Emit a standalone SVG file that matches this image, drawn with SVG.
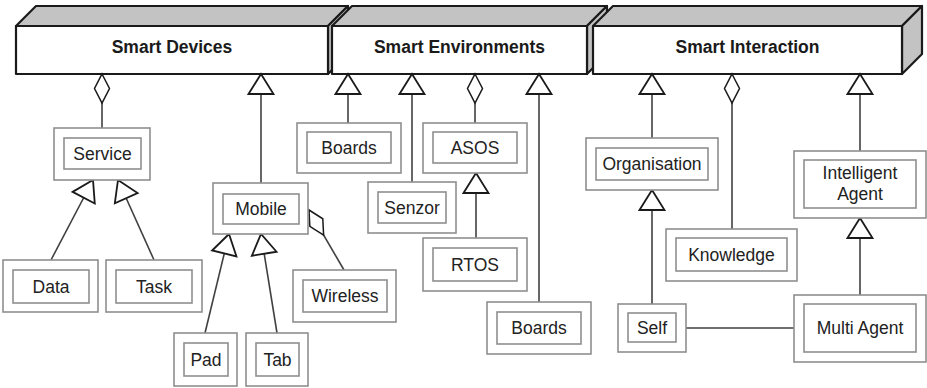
<svg xmlns="http://www.w3.org/2000/svg" width="927" height="388" viewBox="0 0 927 388">
  <style>
    .face { fill: #ffffff; stroke: #1a1a1a; stroke-width: 2.2; stroke-linejoin: round; }
    .shade { fill: #c3c3c3; stroke: #1a1a1a; stroke-width: 2.2; stroke-linejoin: round; }
    .title { font-family: "Liberation Sans", Arial, sans-serif; font-weight: bold; font-size: 17.5px; fill: #1a1a1a; text-anchor: middle; }
    .outer { fill: #ffffff; stroke: #8f8f8f; stroke-width: 1.6; }
    .inner { fill: #ffffff; stroke: #8f8f8f; stroke-width: 1.6; }
    .label { font-family: "Liberation Sans", Arial, sans-serif; font-size: 17.5px; fill: #222222; text-anchor: middle; }
    .link { fill: none; stroke: #404040; stroke-width: 1.6; }
    .gen { marker-end: url(#triangle); }
    .agg { marker-start: url(#diamond); }
  </style>
  <defs>
    <marker id="triangle" markerUnits="userSpaceOnUse" orient="auto" refX="20" refY="0" markerWidth="30" markerHeight="30" overflow="visible">
      <path d="M0,-12.5 L20,0 L0,12.5 Z" fill="#ffffff" stroke="#1a1a1a" stroke-width="1.8" stroke-linejoin="miter"/>
    </marker>
    <marker id="diamond" markerUnits="userSpaceOnUse" orient="auto" refX="0" refY="0" markerWidth="30" markerHeight="30" overflow="visible">
      <path d="M0,0 L14.5,-7.5 L29,0 L14.5,7.5 Z" fill="#ffffff" stroke="#1a1a1a" stroke-width="1.5"/>
    </marker>
  </defs>

  <!-- package blocks -->
  <g id="smart-devices">
    <polygon class="shade" points="16,26 36,6 348,6 328,26"/>
    <polygon class="shade" points="328,26 348,6 348,54 328,74"/>
    <rect class="face" x="16" y="26" width="312" height="48"/>
    <text class="title" x="172" y="53">Smart Devices</text>
  </g>
  <g id="smart-environments">
    <polygon class="shade" points="332,26 352,6 607,6 587,26"/>
    <polygon class="shade" points="587,26 607,6 607,54 587,74"/>
    <rect class="face" x="332" y="26" width="255" height="48"/>
    <text class="title" x="459.5" y="53">Smart Environments</text>
  </g>
  <g id="smart-interaction">
    <polygon class="shade" points="593,26 613,6 922,6 902,26"/>
    <polygon class="shade" points="902,26 922,6 922,54 902,74"/>
    <rect class="face" x="593" y="26" width="309" height="48"/>
    <text class="title" x="747.5" y="53">Smart Interaction</text>
  </g>

  <!-- connectors -->
  <g id="connectors">
    <line class="link agg" x1="102" y1="74" x2="102" y2="128"/>
    <line class="link gen" x1="261" y1="183" x2="261" y2="74"/>
    <line class="link gen" x1="348" y1="123" x2="348" y2="74"/>
    <line class="link gen" x1="412" y1="182" x2="412" y2="74"/>
    <line class="link agg" x1="475" y1="74" x2="475" y2="123"/>
    <line class="link gen" x1="539" y1="302" x2="539" y2="74"/>
    <line class="link gen" x1="652" y1="138" x2="652" y2="74"/>
    <line class="link agg" x1="732" y1="74" x2="732" y2="229"/>
    <line class="link gen" x1="860" y1="151" x2="860" y2="74"/>

    <line class="link gen" x1="51" y1="260" x2="93" y2="180"/>
    <line class="link gen" x1="154" y1="260" x2="118" y2="180"/>
    <line class="link gen" x1="205" y1="333" x2="229" y2="234"/>
    <line class="link gen" x1="277" y1="333" x2="261" y2="234"/>
    <line class="link agg" x1="309" y1="210" x2="344" y2="270"/>
    <line class="link gen" x1="476" y1="238" x2="476" y2="173"/>
    <line class="link gen" x1="652" y1="304" x2="652" y2="190"/>
    <line class="link gen" x1="860" y1="295" x2="860" y2="218"/>
    <line class="link" x1="686" y1="328" x2="794" y2="328"/>
  </g>

  <!-- nodes -->
  <g id="service">
    <rect class="outer" x="54" y="128" width="96" height="52"/>
    <rect class="inner" x="64" y="138" width="77" height="31"/>
    <text class="label" x="102.5" y="159.5">Service</text>
  </g>
  <g id="data">
    <rect class="outer" x="3" y="260" width="95" height="52"/>
    <rect class="inner" x="13" y="270" width="76" height="33"/>
    <text class="label" x="51" y="292.5">Data</text>
  </g>
  <g id="task">
    <rect class="outer" x="106" y="260" width="96" height="52"/>
    <rect class="inner" x="116" y="270" width="76" height="33"/>
    <text class="label" x="154" y="292.5">Task</text>
  </g>
  <g id="mobile">
    <rect class="outer" x="213" y="183" width="95" height="51"/>
    <rect class="inner" x="223" y="194" width="76" height="30"/>
    <text class="label" x="261" y="215">Mobile</text>
  </g>
  <g id="pad">
    <rect class="outer" x="174" y="333" width="63" height="53"/>
    <rect class="inner" x="184" y="343" width="44" height="33"/>
    <text class="label" x="206" y="365.5">Pad</text>
  </g>
  <g id="tab">
    <rect class="outer" x="246" y="333" width="62" height="53"/>
    <rect class="inner" x="256" y="343" width="43" height="33"/>
    <text class="label" x="277.5" y="365.5">Tab</text>
  </g>
  <g id="wireless">
    <rect class="outer" x="293" y="270" width="103" height="52"/>
    <rect class="inner" x="303" y="280" width="84" height="32"/>
    <text class="label" x="345" y="302">Wireless</text>
  </g>
  <g id="boards-devices">
    <rect class="outer" x="297" y="123" width="104" height="50"/>
    <rect class="inner" x="307" y="132" width="84" height="31"/>
    <text class="label" x="349" y="153.5">Boards</text>
  </g>
  <g id="senzor">
    <rect class="outer" x="368" y="182" width="88" height="51"/>
    <rect class="inner" x="378" y="192" width="68" height="31"/>
    <text class="label" x="412" y="213.5">Senzor</text>
  </g>
  <g id="asos">
    <rect class="outer" x="423" y="123" width="104" height="50"/>
    <rect class="inner" x="433" y="132" width="84" height="31"/>
    <text class="label" x="475" y="153.5">ASOS</text>
  </g>
  <g id="rtos">
    <rect class="outer" x="423" y="238" width="104" height="53"/>
    <rect class="inner" x="433" y="248" width="84" height="33"/>
    <text class="label" x="475" y="270.5">RTOS</text>
  </g>
  <g id="boards-environments">
    <rect class="outer" x="487" y="302" width="104" height="52"/>
    <rect class="inner" x="497" y="312" width="84" height="32"/>
    <text class="label" x="539" y="334">Boards</text>
  </g>
  <g id="organisation">
    <rect class="outer" x="586" y="138" width="132" height="52"/>
    <rect class="inner" x="596" y="148" width="112" height="32"/>
    <text class="label" x="652" y="170">Organisation</text>
  </g>
  <g id="knowledge">
    <rect class="outer" x="666" y="229" width="131" height="52"/>
    <rect class="inner" x="676" y="238" width="111" height="33"/>
    <text class="label" x="731.5" y="260.5">Knowledge</text>
  </g>
  <g id="intelligent-agent">
    <rect class="outer" x="794" y="151" width="132" height="67"/>
    <rect class="inner" x="804" y="160" width="112" height="48"/>
    <text class="label" x="860" y="179">Intelligent</text>
    <text class="label" x="860" y="200">Agent</text>
  </g>
  <g id="self">
    <rect class="outer" x="618" y="304" width="68" height="48"/>
    <rect class="inner" x="628" y="313" width="48" height="29"/>
    <text class="label" x="652" y="333.5">Self</text>
  </g>
  <g id="multi-agent">
    <rect class="outer" x="794" y="295" width="132" height="67"/>
    <rect class="inner" x="804" y="304" width="112" height="48"/>
    <text class="label" x="860" y="334">Multi Agent</text>
  </g>
</svg>
